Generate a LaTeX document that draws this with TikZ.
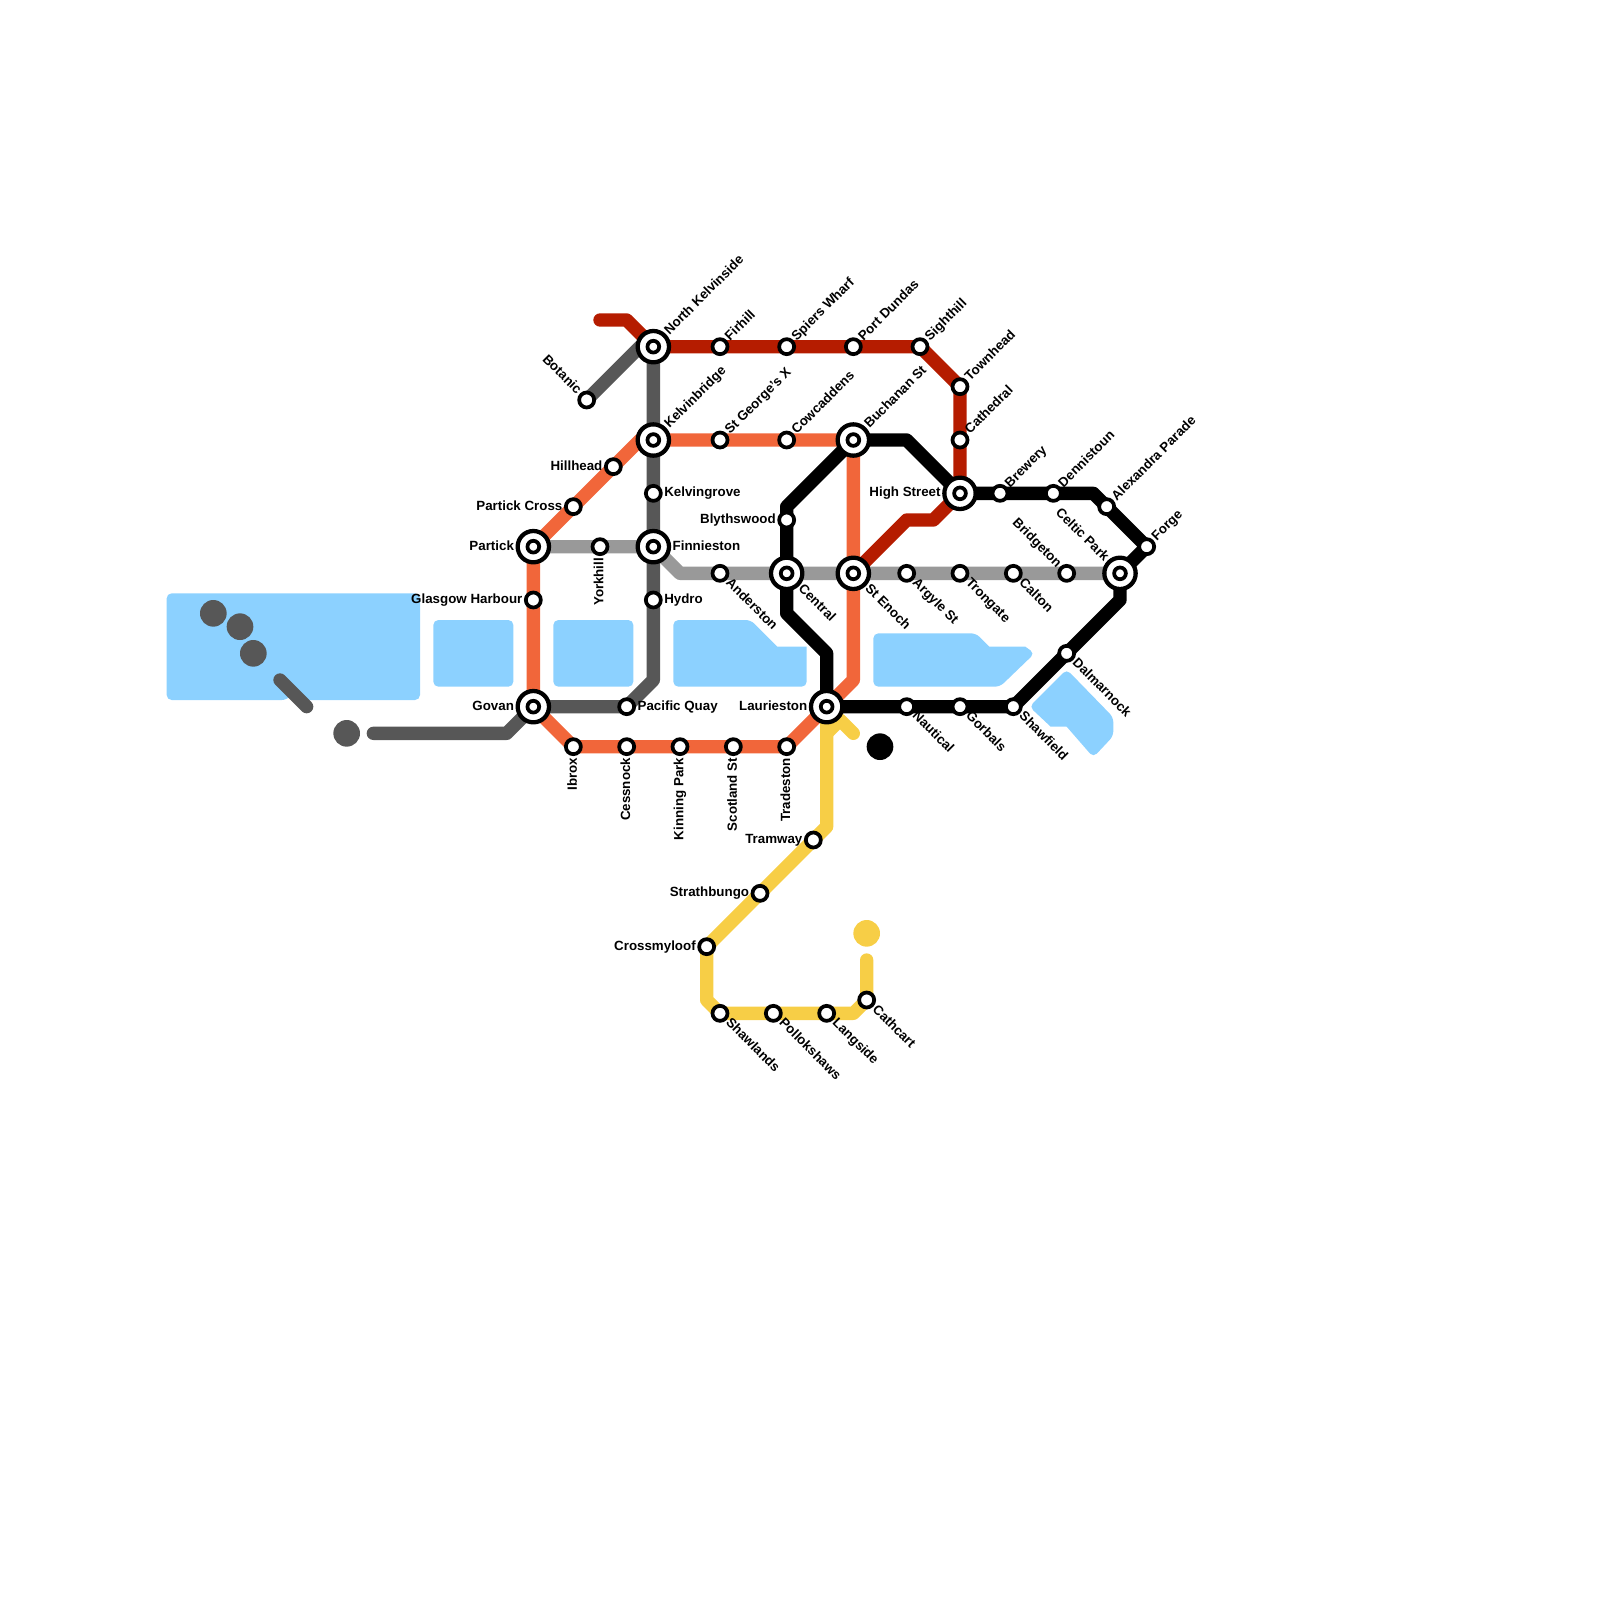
\documentclass[tikz,border=0pt]{standalone}
\usepackage{fontspec}
\setmainfont{Liberation Sans}
\usetikzlibrary{backgrounds}
\definecolor{waterblue}{RGB}{140,209,255}
\definecolor{kelvinred}{RGB}{181,28,0}
\definecolor{clydeorange}{RGB}{241,102,58}
\definecolor{subwaygray}{RGB}{87,87,87}
\definecolor{argylegray}{RGB}{153,153,153}
\definecolor{southyellow}{RGB}{247,206,70}
\tikzset{
  water/.style={fill=waterblue, rounded corners=3.75pt},
  metroline/.style={line width=10pt, line cap=round, line join=round},
  redline/.style={metroline, draw=kelvinred},
  orangeline/.style={metroline, draw=clydeorange},
  darkline/.style={metroline, draw=subwaygray},
  lightline/.style={metroline, draw=argylegray},
  yellowline/.style={metroline, draw=southyellow},
  blackline/.style={metroline, draw=black},
  stop/.style={circle, draw=black, fill=white, line width=2.8pt,
    minimum size=11.25pt, inner sep=0pt},
  hub/.style={circle, draw=black, fill=white, line width=3.2pt,
    minimum size=23.5pt, inner sep=0pt,
    path picture={\draw[line width=2.8pt] (path picture bounding box.center) circle (4.4pt);}},
  terminus/.style={circle, minimum size=20pt, inner sep=0pt},
  stn/.style={font=\bfseries\fontsize{10pt}{10pt}\selectfont, inner sep=1pt,
    text height=7.2pt, text depth=2pt},
  stnne/.style={stn, rotate=45, anchor=west},
  stnse/.style={stn, rotate=-45, anchor=west},
  stnnw/.style={stn, rotate=-45, anchor=east},
  stne/.style={stn, anchor=west},
  stnw/.style={stn, anchor=east},
  stns/.style={stn, rotate=90, anchor=east, inner sep=1.2pt}
}
\begin{document}
\begin{tikzpicture}[x=10pt, y=-10pt]
  \useasboundingbox (0,0) rectangle (120,120);

  % --- top line stations ---
  \node[hub] (northkelvinside) at (49,26) {};
  \node[stop] (firhill) at (54,26) {};
  \node[stop] (spierswharf) at (59,26) {};
  \node[stop] (portdundas) at (64,26) {};
  \node[stop] (sighthill) at (69,26) {};
  \node[stop] (townhead) at (72,29) {};
  \node[stop] (cathedral) at (72,33) {};
  \node[hub] (highstreet) at (72,37) {};
  \node[stop] (botanic) at (44,30) {};

  % --- second row ---
  \node[hub] (kelvinbridge) at (49,33) {};
  \node[stop] (stgeorges) at (54,33) {};
  \node[stop] (cowcaddens) at (59,33) {};
  \node[hub] (buchanan) at (64,33) {};
  \node[stop] (hillhead) at (46,35) {};
  \node[stop] (partickcross) at (43,38) {};
  \node[stop] (kelvingrove) at (49,37) {};
  \node[stop] (blythswood) at (59,39) {};
  \node[stop] (brewery) at (75,37) {};
  \node[stop] (dennistoun) at (79,37) {};
  \node[stop] (alexandra) at (83,38) {};
  \node[stop] (forge) at (86,41) {};

  % --- argyle row ---
  \node[hub] (partick) at (40,41) {};
  \node[stop] (yorkhill) at (45,41) {};
  \node[hub] (finnieston) at (49,41) {};
  \node[stop] (anderston) at (54,43) {};
  \node[hub] (central) at (59,43) {};
  \node[hub] (stenoch) at (64,43) {};
  \node[stop] (argylest) at (68,43) {};
  \node[stop] (trongate) at (72,43) {};
  \node[stop] (calton) at (76,43) {};
  \node[stop] (bridgeton) at (80,43) {};
  \node[hub] (celticpark) at (84,43) {};
  \node[stop] (harbour) at (40,45) {};
  \node[stop] (hydro) at (49,45) {};
  \node[stop] (dalmarnock) at (80,49) {};

  % --- river row ---
  \node[hub] (govan) at (40,53) {};
  \node[stop] (pacificquay) at (47,53) {};
  \node[hub] (laurieston) at (62,53) {};
  \node[stop] (nautical) at (68,53) {};
  \node[stop] (gorbals) at (72,53) {};
  \node[stop] (shawfield) at (76,53) {};
  \node[stop] (ibrox) at (43,56) {};
  \node[stop] (cessnock) at (47,56) {};
  \node[stop] (kinningpark) at (51,56) {};
  \node[stop] (scotlandst) at (55,56) {};
  \node[stop] (tradeston) at (59,56) {};

  % --- south ---
  \node[stop] (tramway) at (61,63) {};
  \node[stop] (strathbungo) at (57,67) {};
  \node[stop] (crossmyloof) at (53,71) {};
  \node[stop] (shawlands) at (54,76) {};
  \node[stop] (pollokshaws) at (58,76) {};
  \node[stop] (langside) at (62,76) {};
  \node[stop] (cathcart) at (65,75) {};

  % --- line ends ---
  \node[terminus, fill=subwaygray] (dotone) at (16,46) {};
  \node[terminus, fill=subwaygray] (dottwo) at (18,47) {};
  \node[terminus, fill=subwaygray] (dotthree) at (19,49) {};
  \node[terminus, fill=subwaygray] (dotfour) at (26,55) {};
  \node[terminus, fill=black] (dotblack) at (66,56) {};
  \node[terminus, fill=southyellow] (dotyellow) at (65,70) {};

  % --- bends ---
  \coordinate (redstart) at (45,24);
  \coordinate (redbend) at (47,24);
  \coordinate (redlow) at (70,39);
  \coordinate (redlowb) at (68,39);
  \coordinate (orangetop) at (48,33);
  \coordinate (orangebend) at (64,51);
  \coordinate (darktop) at (48,26);
  \coordinate (darkbend) at (49,51);
  \coordinate (darklow) at (38,55);
  \coordinate (darkend) at (28,55);
  \coordinate (stubtop) at (21,51);
  \coordinate (stubend) at (23,53);
  \coordinate (lightbend) at (51,43);
  \coordinate (blacktop) at (68,33);
  \coordinate (blackleft) at (59,38);
  \coordinate (blackcentre) at (59,46);
  \coordinate (blacklow) at (62,49);
  \coordinate (blackright) at (82,37);
  \coordinate (blackeast) at (84,45);
  \coordinate (yellowfork) at (62,55);
  \coordinate (yellowpeak) at (63,54);
  \coordinate (yellowstub) at (64,55);
  \coordinate (yellowbend) at (62,62);
  \coordinate (yellowwest) at (53,75);
  \coordinate (yelloweast) at (64,76);
  \coordinate (yellowend) at (65,72);

  % ---------------- water and lines ----------------
  \begin{scope}[on background layer]
    \fill[water] (12.5,44.5) -- (31.5,44.5) -- (31.5,52.5) -- (22.6,52.5) -- (22,52) -- (21.5,52.5) -- (12.5,52.5) -- cycle;
    \fill[water] (32.5,46.5) rectangle (38.5,51.5);
    \fill[water] (41.5,46.5) rectangle (47.5,51.5);
    \fill[water] (50.5,46.5) -- (56.3,46.5) [sharp corners] -- (58.3,48.5) -- (60.5,48.5) [rounded corners=3.75pt] -- (60.5,51.5) -- (50.5,51.5) -- cycle;
    \fill[water] (65.5,47.5) -- (73.2,47.5) [sharp corners] -- (74.2,48.5) -- (76.9,48.5) [rounded corners=3.75pt] -- (77.6,49) -- (75,51.5) -- (65.5,51.5) -- cycle;
    \fill[water] (80,50.2) -- (83.5,53.8) -- (83.5,55.2) -- (82,56.8) [sharp corners] -- (80,54.5) -- (78.8,54.5) [rounded corners=3.75pt] -- (77.2,53) -- cycle;
    \draw[lightline] (partick.center) -- (yorkhill.center) -- (finnieston.center) -- (lightbend) -- (anderston.center) -- (central.center) -- (stenoch.center) -- (argylest.center) -- (trongate.center) -- (calton.center) -- (bridgeton.center) -- (celticpark.center);
    \draw[orangeline] (kelvinbridge.center) -- (orangetop) -- (hillhead.center) -- (partickcross.center) -- (partick.center) -- (harbour.center) -- (govan.center) -- (ibrox.center) -- (cessnock.center) -- (kinningpark.center) -- (scotlandst.center) -- (tradeston.center) -- (laurieston.center) -- (orangebend) -- (stenoch.center) -- (buchanan.center) -- (cowcaddens.center) -- (stgeorges.center) -- (kelvinbridge.center);
    \draw[darkline] (botanic.center) -- (darktop) -- (northkelvinside.center) -- (kelvinbridge.center) -- (kelvingrove.center) -- (finnieston.center) -- (hydro.center) -- (darkbend) -- (pacificquay.center) -- (govan.center) -- (darklow) -- (darkend);
    \draw[darkline] (stubtop) -- (stubend);
    \draw[redline] (redstart) -- (redbend) -- (northkelvinside.center) -- (firhill.center) -- (spierswharf.center) -- (portdundas.center) -- (sighthill.center) -- (townhead.center) -- (cathedral.center) -- (highstreet.center) -- (redlow) -- (redlowb) -- (stenoch.center);
    \draw[yellowline] (laurieston.center) -- (yellowbend) -- (tramway.center) -- (strathbungo.center) -- (crossmyloof.center) -- (yellowwest) -- (shawlands.center) -- (pollokshaws.center) -- (langside.center) -- (yelloweast) -- (cathcart.center) -- (yellowend);
    \draw[yellowline] (yellowfork) -- (yellowpeak) -- (yellowstub);
    \draw[blackline] (buchanan.center) -- (blackleft) -- (blythswood.center) -- (central.center) -- (blackcentre) -- (blacklow) -- (laurieston.center) -- (nautical.center) -- (gorbals.center) -- (shawfield.center) -- (dalmarnock.center) -- (blackeast) -- (celticpark.center) -- (forge.center) -- (alexandra.center) -- (blackright) -- (dennistoun.center) -- (brewery.center) -- (highstreet.center) -- (blacktop) -- (buchanan.center);
  \end{scope}

  % ---------------- labels ----------------
  \node[stnne] (northkelvinsidetext) at (northkelvinside.45) {North Kelvinside};
  \node[stnne] (firhilltext) at (firhill.45) {Firhill};
  \node[stnne] (spierswharftext) at (spierswharf.45) {Spiers Wharf};
  \node[stnne] (portdundastext) at (portdundas.45) {Port Dundas};
  \node[stnne] (sighthilltext) at (sighthill.45) {Sighthill};
  \node[stnne] (townheadtext) at (townhead.45) {Townhead};
  \node[stnne] (cathedraltext) at (cathedral.45) {Cathedral};
  \node[stnne] (kelvinbridgetext) at (kelvinbridge.45) {Kelvinbridge};
  \node[stnne] (stgeorgestext) at (stgeorges.45) {St George's X};
  \node[stnne] (cowcaddenstext) at (cowcaddens.45) {Cowcaddens};
  \node[stnne] (buchanantext) at (buchanan.45) {Buchanan St};
  \node[stnne] (brewerytext) at (brewery.45) {Brewery};
  \node[stnne] (dennistountext) at (dennistoun.45) {Dennistoun};
  \node[stnne] (alexandratext) at (alexandra.45) {Alexandra Parade};
  \node[stnne] (forgetext) at (forge.45) {Forge};
  \node[stnnw] (botanictext) at (botanic.135) {Botanic};
  \node[stnnw] (bridgetontext) at (bridgeton.135) {Bridgeton};
  \node[stnnw] (celticparktext) at (celticpark.135) {Celtic Park};
  \node[stnw] (hillheadtext) at (hillhead.west) {Hillhead};
  \node[stnw] (partickcrosstext) at (partickcross.west) {Partick Cross};
  \node[stnw] (particktext) at (partick.west) {Partick};
  \node[stnw] (harbourtext) at (harbour.west) {Glasgow Harbour};
  \node[stnw] (govantext) at (govan.west) {Govan};
  \node[stnw] (lauriestontext) at (laurieston.west) {Laurieston};
  \node[stnw] (blythswoodtext) at (blythswood.west) {Blythswood};
  \node[stnw] (highstreettext) at (highstreet.west) {High Street};
  \node[stnw] (tramwaytext) at (tramway.west) {Tramway};
  \node[stnw] (strathbungotext) at (strathbungo.west) {Strathbungo};
  \node[stnw] (crossmylooftext) at (crossmyloof.west) {Crossmyloof};
  \node[stne] (kelvingrovetext) at (kelvingrove.east) {Kelvingrove};
  \node[stne] (finniestontext) at (finnieston.east) {Finnieston};
  \node[stne] (hydrotext) at (hydro.east) {Hydro};
  \node[stne] (pacificquaytext) at (pacificquay.east) {Pacific Quay};
  \node[stns] (yorkhilltext) at (yorkhill.south) {Yorkhill};
  \node[stns] (ibroxtext) at (ibrox.south) {Ibrox};
  \node[stns] (cessnocktext) at (cessnock.south) {Cessnock};
  \node[stns] (kinningparktext) at (kinningpark.south) {Kinning Park};
  \node[stns] (scotlandsttext) at (scotlandst.south) {Scotland St};
  \node[stns] (tradestontext) at (tradeston.south) {Tradeston};
  \node[stnse] (andersontext) at (anderston.-45) {Anderston};
  \node[stnse] (centraltext) at (central.-45) {Central};
  \node[stnse] (stenochtext) at (stenoch.-45) {St Enoch};
  \node[stnse] (argylesttext) at (argylest.-45) {Argyle St};
  \node[stnse] (trongatetext) at (trongate.-45) {Trongate};
  \node[stnse] (caltontext) at (calton.-45) {Calton};
  \node[stnse] (dalmarnocktext) at (dalmarnock.-45) {Dalmarnock};
  \node[stnse] (nauticaltext) at (nautical.-45) {Nautical};
  \node[stnse] (gorbalstext) at (gorbals.-45) {Gorbals};
  \node[stnse] (shawfieldtext) at (shawfield.-45) {Shawfield};
  \node[stnse] (shawlandstext) at (shawlands.-45) {Shawlands};
  \node[stnse] (pollokshawstext) at (pollokshaws.-45) {Pollokshaws};
  \node[stnse] (langsidetext) at (langside.-45) {Langside};
  \node[stnse] (cathcarttext) at (cathcart.-45) {Cathcart};

\end{tikzpicture}
\end{document}
